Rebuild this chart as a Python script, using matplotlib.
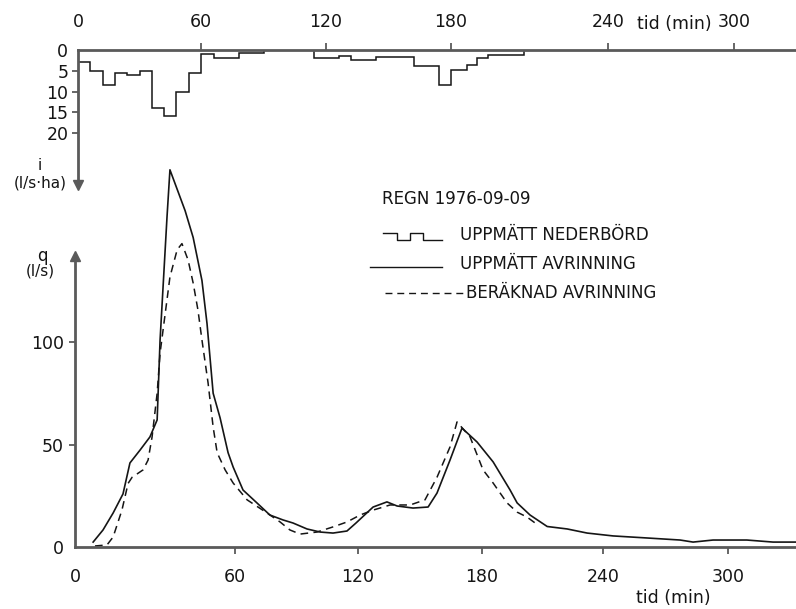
import numpy as np
import matplotlib
matplotlib.use("Agg")
import matplotlib.pyplot as plt
from matplotlib.lines import Line2D

# rain intensity i (l/s*ha), one value per interval between the edges (min)
rain_edges = [0, 6, 12, 18, 24, 30, 36, 42, 48, 54, 60, 66, 78, 90,
              114, 126, 132, 144, 162, 174, 180, 186, 190, 194, 208]
rain_values = [3, 5, 8.4, 5.5, 6, 5, 14, 16, 10, 5.5, 1, 2, 0.7, 0,
               2, 1.5, 2.5, 1.6, 3.8, 8.4, 4.8, 3.6, 2, 1.1]

# measured runoff q (l/s)
meas_t = [6.8, 10.5, 14.3, 18, 20.6, 24.4, 28.1, 30.8, 31.9, 34.5, 35.6,
          41.3, 44.3, 47.6, 49.5, 51.8, 54.4, 57.4, 59.3, 63.9, 70.7, 77,
          83.4, 88.3, 95.1, 101.5, 107.8, 114.6, 119, 127.3, 134, 138.9,
          146.6, 153.9, 158.2, 164.5, 170.3, 177.6, 185.5, 193.9, 197.4,
          203.8, 212.3, 222.2, 232.1, 244.8, 261.1, 277, 283.2, 292.8,
          309, 321.6, 332.6]
meas_q = [2.4, 8.3, 16.6, 25.9, 41, 47.3, 53.7, 62, 101, 161, 184,
          164, 151, 130, 109, 75, 63, 46, 39, 27.8, 21.5, 15.6,
          13.2, 11.7, 8.8, 7.3, 6.8, 7.8, 11.7, 19.5, 22, 20,
          19, 19.5, 26.3, 42.4, 58, 51.2, 41.5, 27.8, 21.5,
          15.6, 10, 8.8, 6.8, 5.4, 4.4, 3.4, 2.4, 3.4,
          3.4, 2.4, 2.4]

# computed runoff q (l/s)
calc_t = [7.5, 12, 14.3, 17.6, 19.9, 21.4, 25.5, 27.4, 28.9, 30.8, 31.9,
          35.6, 38.3, 40.1, 42.4, 44.3, 46.1, 47.6, 49.9, 51.8, 53.3, 56.3,
          59.3, 65.9, 75.6, 82, 86.8, 91.7, 100, 107.8, 114.6, 121, 127.3,
          135.5, 145.2, 152.4, 158.2, 164.5, 167.9, 174.2, 180.5, 185.5,
          192.4, 197.4, 202.3, 207.3]
calc_q = [0.5, 1, 4.9, 18, 31, 34, 37.6, 42.4, 53.7, 75, 94.6,
          131.7, 145, 148, 140, 128.8, 115.6, 101, 80, 58.5, 46, 37.6,
          31.2, 23, 16.6, 12.2, 8.3, 6.3, 7.3, 9.8, 12.2, 15.6, 18,
          20.5, 20.5, 23, 34, 48.8, 61, 53.7, 37.6, 31.2,
          21.5, 17, 14.6, 11]

time_ticks = [0, 60, 120, 180, 240, 300]
rain_ticks = [0, 5, 10, 15, 20]
q_ticks = [0, 50, 100]

# the hand drawn time axes are not evenly spaced, calibrate them
knot_min = [-60, 0, 60, 120, 180, 240, 300, 360, 420]
top_knot_px = [-45, 78, 201, 326, 451, 608, 734, 860, 986]
bot_knot_px = [-48, 75, 235, 358, 482, 603, 728, 853, 978]

W, H = 796, 609
AX = "#5a5a5a"
INK = "#151515"
FS = 12.5

plt.rcParams["font.family"] = ["DejaVu Sans"]


def time_scale(knot_px):
    def fwd(x):
        return np.interp(x, knot_min, knot_px)

    def inv(p):
        return np.interp(p, knot_px, knot_min)
    return fwd, inv


def fx(px):
    return px / W


def fy(py):
    return 1 - py / H


fig = plt.figure(figsize=(W / 100, H / 100), dpi=100)

# --- rain panel (top) ---
rain_bottom = 32.5
ax_r = fig.add_axes([fx(78), fy(185), 1 - fx(78), fy(50) - fy(185)])
ax_r.set_facecolor("none")
ax_r.set_xscale("function", functions=time_scale(top_knot_px))
ax_r.set_xlim(0, 329.5)
ax_r.set_ylim(rain_bottom, 0)
ax_r.stairs(rain_values, rain_edges, baseline=0, color=INK, lw=1.1)

ax_r.xaxis.tick_top()
ax_r.set_xticks(time_ticks)
ax_r.tick_params(axis="x", direction="out", length=5, width=1.3, color=AX,
                 pad=9, labelsize=FS, labelcolor=INK)
ax_r.xaxis.get_major_ticks()[0].tick2line.set_visible(False)
ax_r.set_yticks(rain_ticks)
ax_r.tick_params(axis="y", direction="out", length=4, width=1.3, color=AX,
                 pad=3, labelsize=FS, labelcolor=INK)
ax_r.yaxis.get_major_ticks()[0].tick1line.set_visible(False)
for s in ["bottom", "right"]:
    ax_r.spines[s].set_visible(False)
for s in ["top", "left"]:
    ax_r.spines[s].set_color(AX)
    ax_r.spines[s].set_linewidth(2)
ax_r.plot([0], [rain_bottom], marker="v", ms=7, color=AX, clip_on=False)

# --- runoff panel (bottom) ---
q_top = 190
q_arrow = 142
ax_q = fig.add_axes([fx(75), fy(547), 1 - fx(75),
                     fy(547 - q_top * 2.05) - fy(547)])
ax_q.set_facecolor("none")
ax_q.set_xscale("function", functions=time_scale(bot_knot_px))
ax_q.set_xlim(0, 332.6)
ax_q.set_ylim(0, q_top)
ax_q.plot(meas_t, meas_q, color=INK, lw=1.2)
ax_q.plot(calc_t, calc_q, color=INK, lw=1.1, dashes=(5, 3.5))

ax_q.set_xticks(time_ticks)
ax_q.tick_params(axis="x", direction="out", length=5, width=1.3, color=AX,
                 pad=10, labelsize=FS, labelcolor=INK)
ax_q.xaxis.get_major_ticks()[0].tick1line.set_visible(False)
ax_q.set_yticks(q_ticks)
ax_q.tick_params(axis="y", direction="out", length=4, width=1.3, color=AX,
                 pad=4, labelsize=FS, labelcolor=INK)
ax_q.yaxis.get_major_ticks()[0].tick1line.set_visible(False)
for s in ["top", "right"]:
    ax_q.spines[s].set_visible(False)
for s in ["bottom", "left"]:
    ax_q.spines[s].set_color(AX)
    ax_q.spines[s].set_linewidth(2)
ax_q.spines["left"].set_bounds(0, q_arrow)
ax_q.plot([0], [q_arrow], marker="^", ms=7, color=AX, clip_on=False)

# axis names
fig.text(fx(674), fy(24), "tid (min)", ha="center", va="center",
         fontsize=FS, color=INK)
fig.text(fx(673), fy(598), "tid (min)", ha="center", va="center",
         fontsize=FS, color=INK)
fig.text(fx(40), fy(166), "i", ha="center", va="center", fontsize=11, color=INK)
fig.text(fx(40), fy(183), "(l/s·ha)", ha="center", va="center", fontsize=11,
         color=INK)
fig.text(fx(42), fy(256), "q", ha="center", va="center", fontsize=12, color=INK)
fig.text(fx(40), fy(271), "(l/s)", ha="center", va="center", fontsize=11,
         color=INK)

# hand drawn legend
LFS = 12
fig.text(fx(382), fy(199), "REGN 1976-09-09", ha="left", va="center",
         fontsize=LFS, color=INK)
step_x = [383, 397, 397, 410, 410, 423, 423, 442]
step_y = [233, 233, 240, 240, 233, 233, 240, 240]
fig.add_artist(Line2D([fx(v) for v in step_x], [fy(v) for v in step_y],
                      color=INK, lw=1.0))
fig.text(fx(460), fy(235), "UPPMÄTT NEDERBÖRD", ha="left", va="center",
         fontsize=LFS, color=INK)
fig.add_artist(Line2D([fx(370), fx(442)], [fy(267), fy(267)],
                      color=INK, lw=1.0))
fig.text(fx(460), fy(264), "UPPMÄTT AVRINNING", ha="left", va="center",
         fontsize=LFS, color=INK)
fig.add_artist(Line2D([fx(385), fx(464)], [fy(293), fy(293)],
                      color=INK, lw=1.0, dashes=(5, 3.5)))
fig.text(fx(466), fy(293), "BERÄKNAD AVRINNING", ha="left", va="center",
         fontsize=LFS, color=INK)

fig.savefig("out.png", dpi=100)
